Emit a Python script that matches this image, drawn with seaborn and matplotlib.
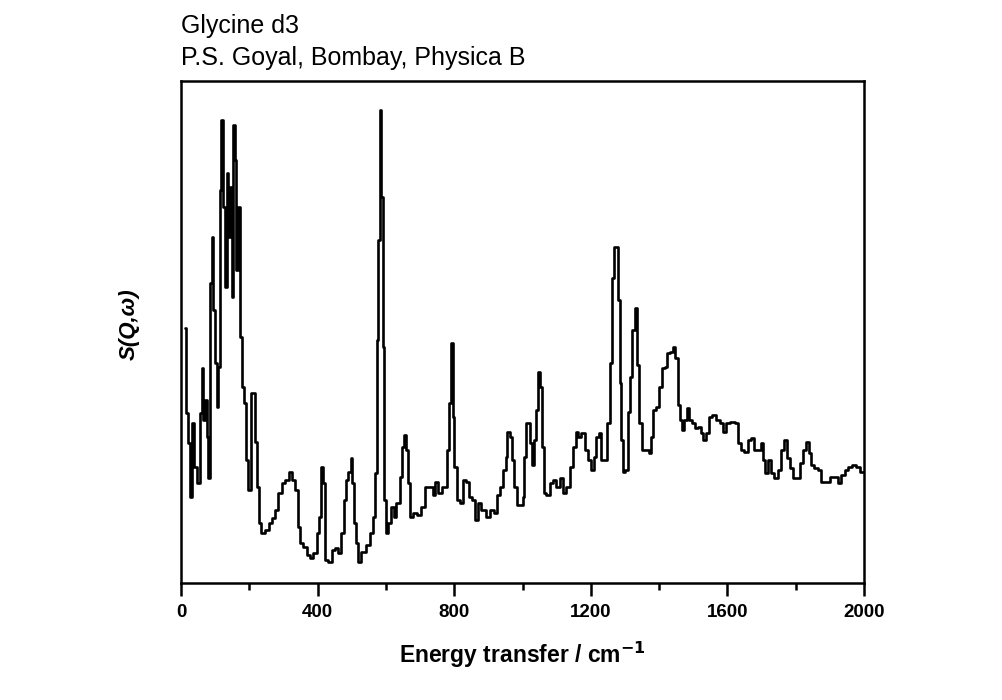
import numpy as np
import pandas as pd
import matplotlib
matplotlib.use("Agg")
import matplotlib.pyplot as plt
from matplotlib.ticker import MultipleLocator, NullLocator
import seaborn as sns

# ------------------------------------------------------------
# data (energy in cm-1, intensity in arb. units)
# ------------------------------------------------------------
energy_low = [11, 17, 22, 29, 36, 43, 53, 58, 63, 68, 73, 78, 82, 87, 92, 97,
              102, 107, 111, 116, 121, 126, 131, 136, 141, 146, 150, 155, 160,
              165, 170, 175, 180, 189, 194, 201, 211, 220, 225, 230, 240]
signal_low = [254, 169, 139, 85, 159, 115, 99, 169, 214, 162, 182, 145, 104,
              299, 345, 272, 219, 175, 215, 392, 462, 375, 295, 409, 345, 395,
              285, 457, 422, 312, 375, 245, 195, 179, 122, 92, 189, 140, 95,
              59, 49]

energy_mid = [252, 261, 271, 281, 290, 300, 310, 320, 329, 339, 344, 354, 363,
              373, 383, 392, 402, 407, 412, 419, 427, 436, 446, 456, 465, 473,
              480, 485, 494, 499, 504, 509, 514, 522, 533, 548, 558, 564, 570,
              575, 580, 584, 589, 592, 597, 601, 611, 621, 626, 635, 645, 650,
              655, 662, 667, 672, 684, 699, 708, 720, 733]
signal_mid = [52, 59, 64, 72, 89, 99, 102, 110, 102, 92, 55, 39, 35, 27, 24,
              29, 49, 65, 115, 99, 22, 20, 32, 34, 29, 49, 82, 102, 110, 124,
              99, 59, 39, 20, 30, 37, 49, 65, 109, 242, 342, 472, 385, 235, 82,
              49, 59, 75, 65, 79, 105, 135, 147, 132, 99, 65, 69, 67, 75, 95,
              95]

energy_high = [741, 749, 759, 768, 776, 783, 788, 793, 798, 803, 812, 822, 829,
               841, 846, 856, 864, 873, 885, 900, 910, 922, 929, 939, 948, 953,
               958, 968, 973, 978, 987, 997, 1004, 1007, 1012, 1019, 1026, 1031,
               1036, 1041, 1048, 1055, 1060, 1065, 1075, 1085, 1094, 1104, 1114,
               1123, 1133, 1143, 1152, 1159, 1167, 1177, 1187, 1196, 1206, 1211,
               1220, 1227, 1235, 1245]
signal_high = [87, 100, 89, 95, 95, 132, 179, 239, 165, 115, 82, 79, 102, 100,
               85, 82, 62, 79, 72, 65, 72, 69, 87, 95, 112, 125, 150, 145, 122,
               95, 77, 77, 85, 125, 159, 159, 139, 117, 142, 172, 210, 195, 135,
               89, 87, 99, 102, 95, 104, 89, 95, 115, 135, 150, 145, 149, 132,
               122, 112, 125, 145, 149, 122, 122]

energy_top = [1252, 1259, 1264, 1271, 1278, 1282, 1288, 1291, 1297, 1305, 1311,
              1320, 1324, 1332, 1339, 1346, 1354, 1368, 1375, 1380, 1386, 1397,
              1404, 1412, 1422, 1426, 1436, 1443, 1451, 1459, 1466, 1470, 1477,
              1485, 1492, 1501, 1509, 1519, 1527, 1533, 1543, 1550, 1560, 1572,
              1582, 1592, 1601, 1616, 1628, 1636, 1645, 1655, 1665, 1674, 1684,
              1694, 1702, 1708, 1715, 1725, 1733, 1742, 1754, 1762, 1772, 1778,
              1788, 1795, 1807, 1817, 1824, 1834, 1842, 1849, 1861, 1871, 1880,
              1895, 1905, 1917, 1929, 1937, 1949, 1958, 1973, 1982, 1992, 2000]
signal_top = [159, 219, 304, 335, 335, 282, 199, 142, 110, 112, 170, 205, 252,
              274, 217, 159, 132, 132, 129, 145, 172, 175, 195, 214, 215, 229,
              230, 235, 224, 177, 162, 152, 162, 174, 162, 159, 154, 155, 149,
              142, 149, 165, 167, 162, 159, 150, 159, 160, 159, 139, 132, 130,
              142, 144, 132, 132, 139, 122, 109, 122, 109, 104, 112, 132, 142,
              124, 114, 104, 104, 119, 132, 140, 129, 117, 114, 112, 100, 100,
              105, 105, 99, 107, 112, 115, 117, 115, 110, 110]

x_ticks = [0, 400, 800, 1200, 1600, 2000]

title_lines = ["Glycine d3", "P.S. Goyal, Bombay, Physica B"]

df = pd.DataFrame({
    "energy": energy_low + energy_mid + energy_high + energy_top,
    "signal": signal_low + signal_mid + signal_high + signal_top,
})

# ------------------------------------------------------------
# plot
# ------------------------------------------------------------
sns.set_style("ticks")
plt.rcParams["font.family"] = ["Liberation Sans", "DejaVu Sans"]
plt.rcParams["text.color"] = "black"
plt.rcParams["axes.labelcolor"] = "black"
plt.rcParams["axes.edgecolor"] = "black"
plt.rcParams["xtick.color"] = "black"

fig = plt.figure(figsize=(10.03, 7.0), dpi=100)
ax = fig.add_axes([181 / 1003, 1 - 583 / 700, 683 / 1003, 502 / 700])

sns.lineplot(data=df, x="energy", y="signal", ax=ax, color="black",
             linewidth=1.9, estimator=None, drawstyle="steps-mid")

ax.set_xlim(0, 2000)
ax.set_ylim(-1, 501)
ax.set_xticks(x_ticks)
ax.xaxis.set_minor_locator(MultipleLocator(200))
ax.yaxis.set_major_locator(NullLocator())
ax.tick_params(axis="x", which="major", direction="out", length=9, width=1.8,
               labelsize=13.5, pad=6)
ax.tick_params(axis="x", which="minor", direction="out", length=5, width=1.8)
for lbl in ax.get_xticklabels():
    lbl.set_fontweight("bold")
for sp in ax.spines.values():
    sp.set_visible(True)
    sp.set_linewidth(1.8)

ax.set_xlabel("Energy transfer / cm$^{\\mathbf{-1}}$", fontsize=16.5,
              fontweight="bold", labelpad=14)
ax.set_ylabel("S(Q,ω)", fontsize=16, fontweight="bold", fontstyle="italic")
ax.yaxis.set_label_coords(-0.06, 0.515)

fig.text(181 / 1003, 1 - 33 / 700, title_lines[0], fontsize=18, va="baseline")
fig.text(181 / 1003, 1 - 65 / 700, title_lines[1], fontsize=18, va="baseline")

fig.savefig("out.png", dpi=100)
